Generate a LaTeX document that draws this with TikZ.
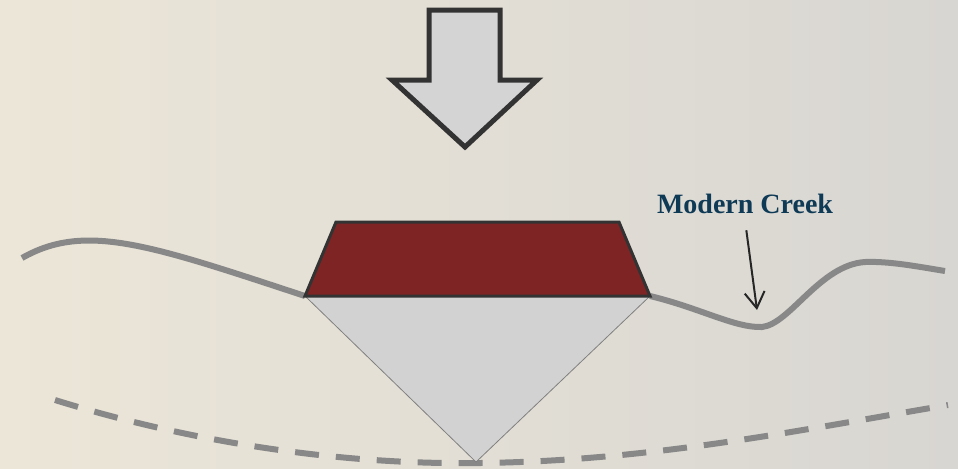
\documentclass[tikz,border=0pt]{standalone}
\usepackage{fontspec}
\setmainfont{Liberation Serif}
\usetikzlibrary{arrows.meta}

\definecolor{sandlight}{HTML}{ECE6D8}
\definecolor{sanddark}{HTML}{D8D6D2}
\definecolor{groundgray}{HTML}{888888}
\definecolor{fillgray}{HTML}{D2D2D2}
\definecolor{outline}{HTML}{333333}
\definecolor{brick}{HTML}{7E2424}
\definecolor{labelblue}{HTML}{0E3A56}

\begin{document}
\begin{tikzpicture}[x=0.5pt,y=-0.5pt,
    ground/.style={draw=groundgray, line width=3pt},
    older/.style={ground, dash pattern=on 12pt off 8.5pt},
    pointer/.style={draw=black!85, line width=1pt, -{Straight Barb[length=8pt,width=10pt]}},
    tag/.style={font=\bfseries\fontsize{14}{16}\selectfont, text=labelblue}]
    \shade [left color=sandlight, right color=sanddark] (0,0) rectangle (958,468);
    \useasboundingbox (0,0) rectangle (958,468);

    % old surface, dashed
    \draw [older] (55,400) .. controls (200,445) and (350,465) .. (480,463)
      .. controls (650,461) and (800,430) .. (948,405);

    % wedge under the fill
    \filldraw [fill=fillgray, draw=gray, line width=0.4pt] (305,296) -- (650,296) -- (476,462) -- cycle;

    % present ground line
    \draw [ground] (22,258) .. controls (85,222) and (150,245) .. (305,296);
    \draw [ground] (650,296) .. controls (700,308) and (735,328) .. (762,327)
      .. controls (790,324) and (820,265) .. (865,262)
      .. controls (890,261) and (920,267) .. (945,271);

    % fill body
    \filldraw [fill=brick, draw=outline, line width=1.5pt, line join=miter]
      (336,222) -- (619,222) -- (650,296) -- (305,296) -- cycle;

    % load arrow
    \filldraw [fill=fillgray!95!white, draw=outline, line width=2.5pt, line join=miter]
      (429,10) -- (500,10) -- (500,80) -- (537,80) -- (465,147) -- (392,80) -- (429,80) -- cycle;

    \node [tag, anchor=base] (creek) at (745,213) {Modern Creek};
    \coordinate (dip) at (757,310);
    \draw [pointer, shorten <=5pt] (creek.south) -- (dip);
\end{tikzpicture}
\end{document}
